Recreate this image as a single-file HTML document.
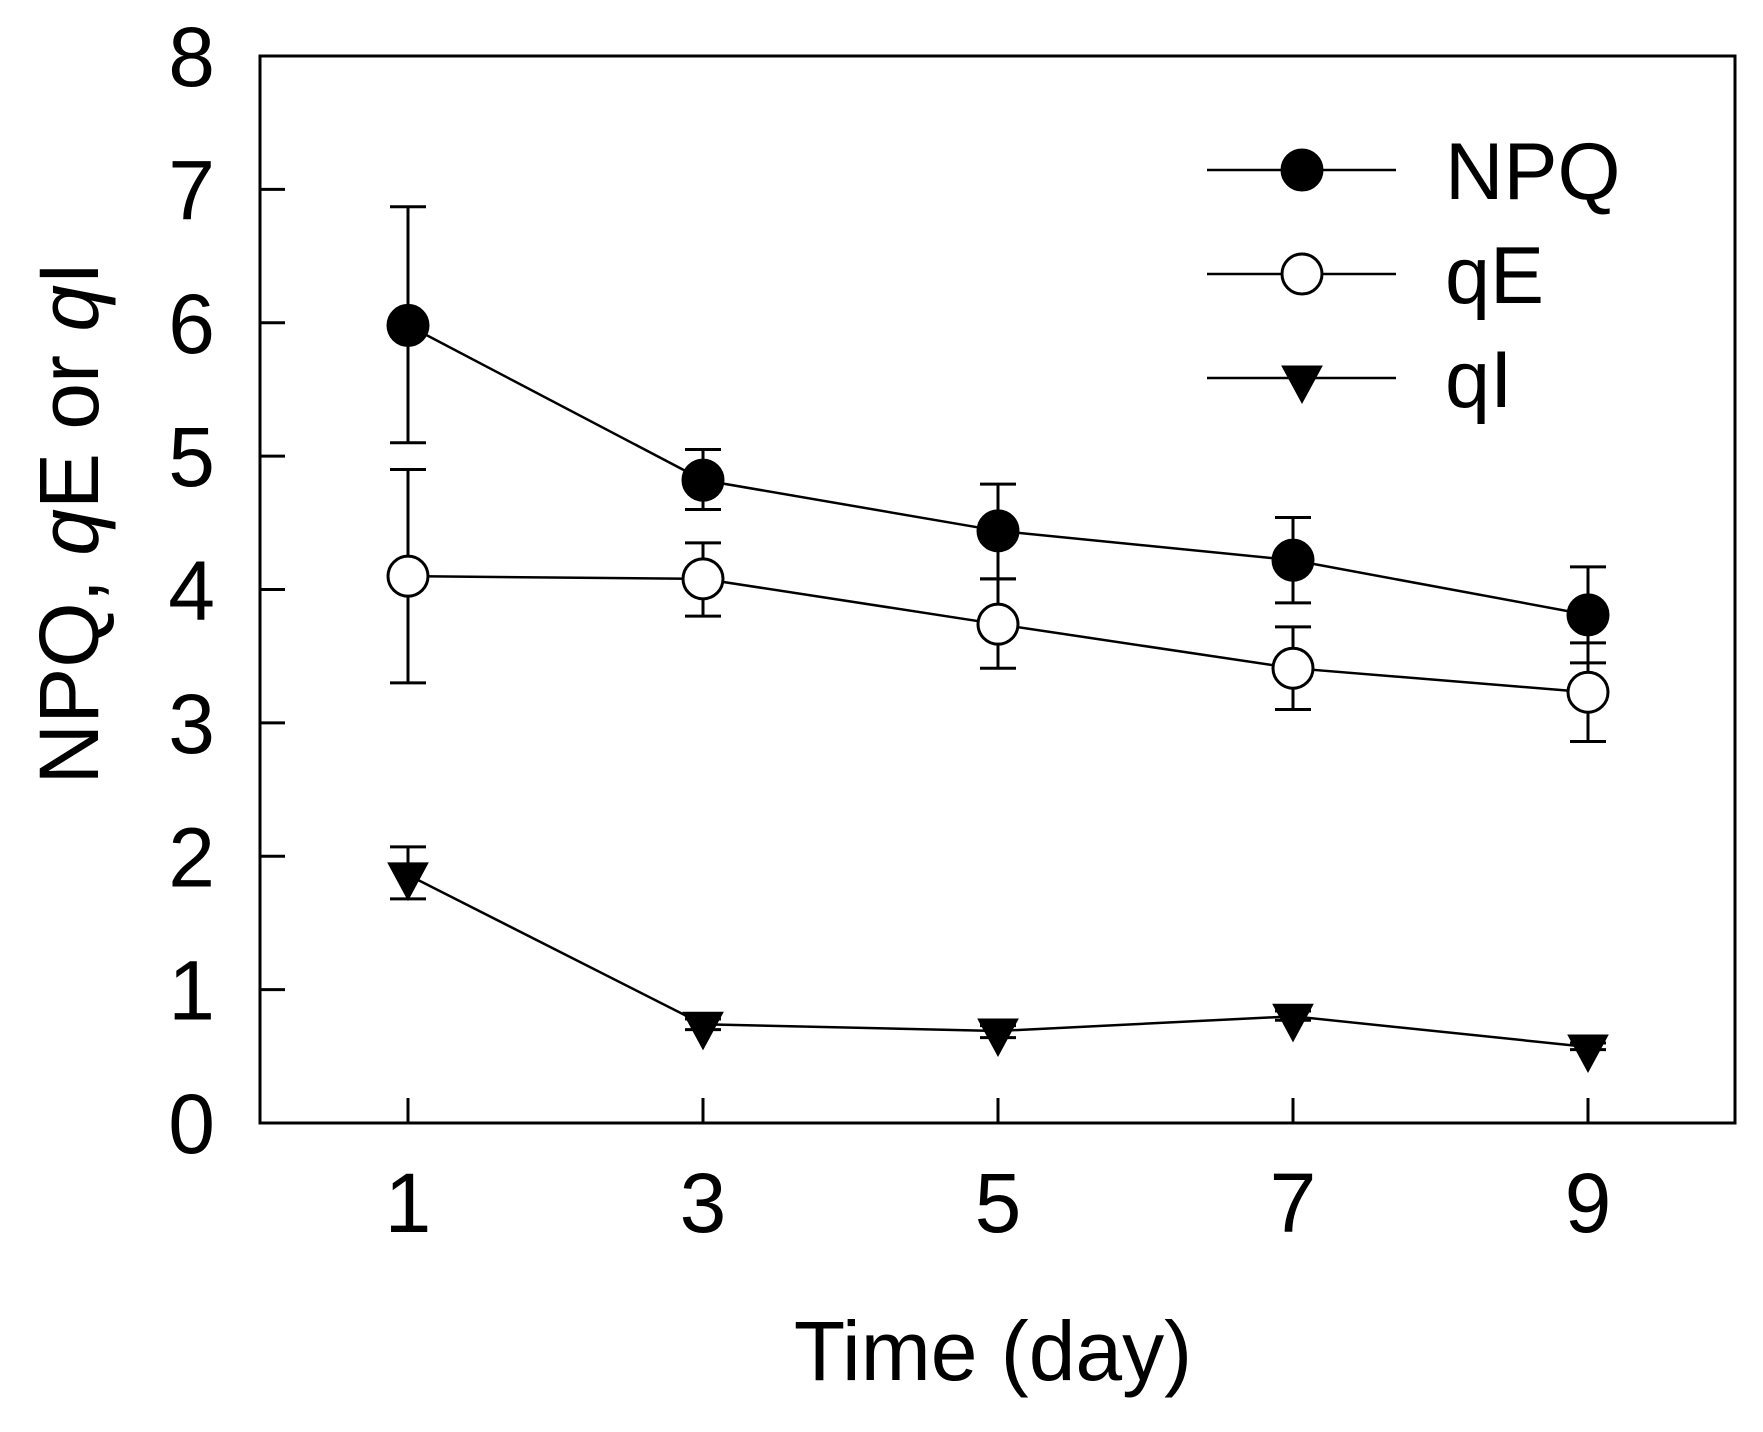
<!DOCTYPE html>
<html><head><meta charset="utf-8"><style>
html,body{margin:0;padding:0;background:#fff;}
svg{display:block;font-family:"Liberation Sans",Arial,sans-serif;}
</style></head><body>
<svg id="chart" width="1763" height="1432" viewBox="0 0 1763 1432" xmlns="http://www.w3.org/2000/svg">
<rect x="0" y="0" width="1763" height="1432" fill="#fff"/>
<g id="plot"></g>
<text x="993" y="1380" font-size="84" text-anchor="middle">Time (day)</text>
<text transform="translate(98,523) rotate(-90)" font-size="84" text-anchor="middle">NPQ, <tspan font-style="italic">q</tspan>E or <tspan font-style="italic">q</tspan>I</text>
</svg>
<script>
const days = [1, 3, 5, 7, 9];
const yTicks = [0, 1, 2, 3, 4, 5, 6, 7, 8];
const npqVals = [5.98, 4.82, 4.44, 4.22, 3.81];
const npqLo = [5.10, 4.60, 4.08, 3.90, 3.45];
const npqHi = [6.87, 5.05, 4.79, 4.54, 4.17];
const qeVals = [4.10, 4.08, 3.74, 3.41, 3.23];
const qeLo = [3.30, 3.80, 3.41, 3.10, 2.86];
const qeHi = [4.90, 4.35, 4.08, 3.72, 3.60];
const qiVals = [1.86, 0.74, 0.69, 0.80, 0.57];
const qiLo = [1.68, 0.70, 0.64, 0.77, 0.55];
const qiHi = [2.07, 0.78, 0.73, 0.84, 0.60];
const legendLabels = ['NPQ', 'qE', 'qI'];

const L=260,R=1735,T=56,B=1123;
const xS = d => 408 + (d-1)*(1588-408)/8;
const yS = v => B - v*(B-T)/8;
const NS='http://www.w3.org/2000/svg';
const plot=document.getElementById('plot');
function mk(tag,attrs,parent){const e=document.createElementNS(NS,tag);for(const k in attrs)e.setAttribute(k,attrs[k]);(parent||plot).appendChild(e);return e;}

const frame=mk('rect',{x:L,y:T,width:R-L,height:B-T,fill:'none',stroke:'#000','stroke-width':3});



yTicks.forEach(v=>{
  const y=yS(v);
  if(v>0&&v<8){const t=mk('line',{x1:L,x2:L+25,y1:y,y2:y,stroke:'#000','stroke-width':3});
  
  }
  const lb=mk('text',{x:215,y:y+30,'font-size':84,'text-anchor':'end'});
  lb.textContent=v;
  
  
});
days.forEach(d=>{
  const x=xS(d);
  const t=mk('line',{x1:x,x2:x,y1:B,y2:B-25,stroke:'#000','stroke-width':3});
  
  
  const lb=mk('text',{x:x,y:1232,'font-size':84,'text-anchor':'middle'});
  lb.textContent=d;
  
  
});

function marker(type,x,y,g){
  if(type==='tri'){
    return mk('polygon',{points:`${x-20},${y-12} ${x+20},${y-12} ${x},${y+25}`,fill:'#000',stroke:'#000','stroke-width':1},g);
  }
  return mk('circle',{cx:x,cy:y,r:20,fill:type==='filled'?'#000':'#fff',stroke:'#000','stroke-width':3},g);
}

function series(name,vals,lo,hi,type){
  const g=mk('g',{});
  
  
  days.forEach((d,i)=>{
    const x=xS(d);
    const eb=mk('path',{d:`M${x},${yS(lo[i])}V${yS(hi[i])}M${x-18},${yS(lo[i])}h36M${x-18},${yS(hi[i])}h36`,stroke:'#000','stroke-width':3,fill:'none'},g);
    
    
  });
  const pl=mk('polyline',{points:days.map((d,i)=>xS(d)+','+yS(vals[i])).join(' '),fill:'none',stroke:'#000','stroke-width':2.5},g);
  
  
  days.forEach((d,i)=>{
    const m=marker(type,xS(d),yS(vals[i]),g);
    
    
  });
}
series('qi',qiVals,qiLo,qiHi,'tri');
series('qe',qeVals,qeLo,qeHi,'open');
series('npq',npqVals,npqLo,npqHi,'filled');

const types=['filled','open','tri'];
const legY=[170,274,378];
legendLabels.forEach((lab,i)=>{
  const g=mk('g',{});
  
  
  mk('line',{x1:1207,x2:1396,y1:legY[i],y2:legY[i],stroke:'#000','stroke-width':2.5},g);
  marker(types[i],1302,legY[i],g);
  const t=mk('text',{x:1445,y:legY[i]+29,'font-size':81},g);
  t.textContent=lab;
});
</script>
</body></html>
